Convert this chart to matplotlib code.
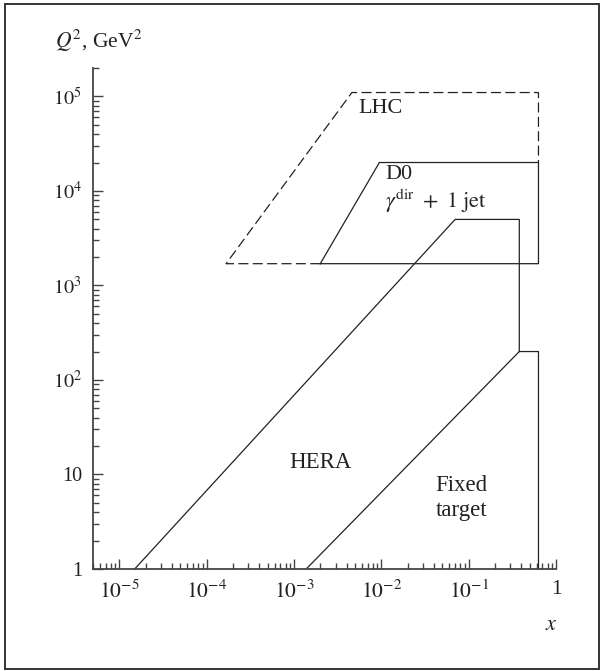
import matplotlib
matplotlib.use("Agg")
import matplotlib.pyplot as plt
from matplotlib.patches import Rectangle
from matplotlib.ticker import FixedLocator, FixedFormatter, LogLocator, NullFormatter

plt.rcParams['font.family'] = ['Liberation Serif', 'DejaVu Serif']
plt.rcParams['mathtext.fontset'] = 'stix'

# Kinematic regions, (x, Q^2) corners
hera_x = [1.5e-5, 0.07, 0.38, 0.38]
hera_q2 = [1, 5000, 5000, 200]

fixed_x = [1.38e-3, 0.38, 0.63, 0.63]
fixed_q2 = [1, 200, 200, 1]

d0_x = [2e-3, 9.5e-3, 0.63, 0.63, 2e-3]
d0_q2 = [1.7e3, 2e4, 2e4, 1.7e3, 1.7e3]

lhc_x = [2e-3, 1.67e-4, 4.6e-3, 0.63, 0.63]
lhc_q2 = [1.7e3, 1.7e3, 1.1e5, 1.1e5, 2e4]

x_ticks = [1e-5, 1e-4, 1e-3, 1e-2, 1e-1, 1]
x_labels = ['$10^{-5}$', '$10^{-4}$', '$10^{-3}$', '$10^{-2}$', '$10^{-1}$', '1']
y_ticks = [1, 10, 1e2, 1e3, 1e4, 1e5]
y_labels = ['1', '10', '$10^2$', '$10^3$', '$10^4$', '$10^5$']

fig = plt.figure(figsize=(6.02, 6.71), dpi=100)
ax = fig.add_axes([93 / 602, 102 / 671, 463 / 602, 501 / 671])

lc = '#222222'
ax.plot(hera_x, hera_q2, color=lc, lw=0.9)
ax.plot(fixed_x, fixed_q2, color=lc, lw=0.9)
ax.plot(d0_x, d0_q2, color=lc, lw=0.9)
ax.plot(lhc_x, lhc_q2, color=lc, lw=0.9, dashes=(8, 3.5))

ax.set_xscale('log')
ax.set_yscale('log')
ax.set_xlim(5e-6, 1)
ax.set_ylim(1, 2e5)

for s in ['top', 'right']:
    ax.spines[s].set_visible(False)
for s in ['left', 'bottom']:
    ax.spines[s].set_color('#444444')
    ax.spines[s].set_linewidth(1.3)

ax.xaxis.set_major_locator(FixedLocator(x_ticks))
ax.xaxis.set_major_formatter(FixedFormatter(x_labels))
ax.yaxis.set_major_locator(FixedLocator(y_ticks))
ax.yaxis.set_major_formatter(FixedFormatter(y_labels))
ax.xaxis.set_minor_locator(LogLocator(base=10, subs=range(2, 10), numticks=20))
ax.yaxis.set_minor_locator(LogLocator(base=10, subs=range(2, 10), numticks=20))
ax.xaxis.set_minor_formatter(NullFormatter())
ax.yaxis.set_minor_formatter(NullFormatter())
ax.tick_params(which='major', direction='in', length=7, width=1.0, color='#444444',
               labelsize=14.5, pad=8, colors='#222222')
ax.tick_params(axis='x', which='major', labelsize=15.5)
ax.tick_params(which='minor', direction='in', length=4, width=1.0, color='#444444')

# Labels
tc = '#222222'
fig.text(55 / 602, 1 - 48 / 671, '$Q^2$, GeV$^2$', fontsize=15.5, color=tc, ha='left', va='baseline')
fig.text(551 / 602, 1 - 625 / 671, '$x$', fontsize=16, color=tc, ha='center', va='center')
ax.text(0.0055, 7.5e4, 'LHC', fontsize=16, color=tc, ha='left', va='center')
ax.text(0.011, 1.5e4, 'D0', fontsize=16, color=tc, ha='left', va='center')
ax.text(0.011, 7.8e3, r'$\gamma^{\mathrm{dir}}\ +\ 1\ \mathrm{jet}$', fontsize=16, color=tc,
        ha='left', va='center')
ax.text(0.002, 13.5, 'HERA', fontsize=16.5, color=tc, ha='center', va='center')
ax.text(0.083, 5.6, 'Fixed\ntarget', fontsize=16.5, color=tc, ha='center', va='center',
        linespacing=1.25)

# Frame round the whole picture
fig.patches.append(Rectangle((5 / 602, 2 / 671), 594 / 602, 665 / 671, transform=fig.transFigure,
                             fill=False, edgecolor='#333333', lw=1.4))

fig.savefig('out.png', dpi=100)
